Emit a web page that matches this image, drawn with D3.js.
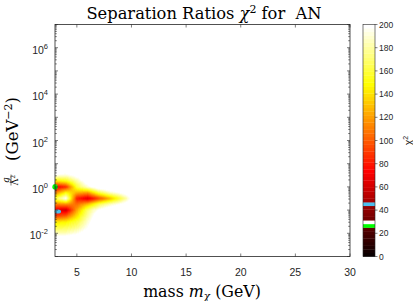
<!DOCTYPE html>
<html><head><meta charset="utf-8">
<script src="https://cdn.jsdelivr.net/npm/d3@7"></script>
<style>body{margin:0;background:#fff}svg{display:block}</style>
</head><body>
<script>
// ---------- data ----------
const masses = [3, 4, 5, 6, 7, 8, 9, 10, 11];                 // GeV
const logCoupling = [1, 0.75, 0.5, 0.25, 0, -0.25, -0.5, -0.75, -1, -1.25, -1.5, -1.75, -2, -2.25, -2.5]; // log10(g/Λ²)
const chi2 = [
  [220,220,220,220,220,220,220,220,220],
  [215,218,225,225,220,220,220,220,220],
  [195,190,205,220,225,220,220,220,220],
  [140,150,180,212,225,225,220,220,220],
  [ 66, 85,160,190,215,225,225,225,220],
  [110,150,125,118,160,185,200,215,220],
  [160,200, 82, 62, 92,125,160,200,220],
  [110,115,105,130,165,185,200,215,220],
  [ 68, 58,122,170,200,215,220,220,220],
  [ 90,100,140,180,215,220,220,220,220],
  [140,145,160,190,220,220,220,220,220],
  [160,165,175,198,220,220,220,220,220],
  [185,185,195,210,220,220,220,220,220],
  [210,215,220,220,220,220,220,220,220],
  [220,220,220,220,220,220,220,220,220]
];
const markerGreen = {m: 3.0, g: 1.0};
const markerBlue = {m: 3.26, g: 0.088};
const xTicks = [5, 10, 15, 20, 25, 30];
const yTickExps = [-2, 0, 2, 4, 6];
const cbTicks = [0, 20, 40, 60, 80, 100, 120, 140, 160, 180, 200];
const specialBands = [{i: 8, c: [0, 1, 0]}, {i: 9, c: [1, 1, 1]}, {i: 14, c: [0.30, 0.745, 0.933]}];

// ---------- colormap (hot, 64 entries, with marked bands) ----------
const N = 64;
const cmap = d3.range(N).map(i => {
  const n1 = 24;
  const r = i < n1 ? (i + 1) / n1 : 1;
  const g = i < n1 ? 0 : (i < 2 * n1 ? (i - n1 + 1) / n1 : 1);
  const b = i < 2 * n1 ? 0 : (i - 2 * n1 + 1) / (N - 2 * n1);
  return [r, g, b];
});
specialBands.forEach(s => cmap[s.i] = s.c);
const cmin = 0, cmax = 200;
const idxScale = d3.scaleQuantize().domain([cmin, cmax]).range(d3.range(N));
function colorOf(v) {
  const i = v >= cmax ? N - 1 : (v <= cmin ? 0 : idxScale(v));
  return cmap[i];
}

// ---------- layout ----------
const W = 413, H = 301;
const L = 55, R = 350, T = 24.5, B = 256.5;
const x = d3.scaleLinear().domain([3, 30]).range([L, R]);
const y = d3.scaleLog().domain([1e-3, 1e7]).range([B, T]);
const cbX0 = 363, cbX1 = 375;
const cy = d3.scaleLinear().domain([cmin, cmax]).range([B, T]);
const axisColor = '#262626';

const svg = d3.select('body').append('svg').attr('width', W).attr('height', H);

// ---------- heatmap via canvas (bilinear interpolation like shading interp) ----------
const pw = Math.round(R - L), ph = Math.round(B - T);
const canvas = document.createElement('canvas');
canvas.width = pw; canvas.height = ph;
const ctx = canvas.getContext('2d');
const img = ctx.createImageData(pw, ph);
const mi = d3.scaleLinear().domain(masses).range(d3.range(masses.length));
const li = d3.scaleLinear().domain(logCoupling).range(d3.range(logCoupling.length));
for (let py = 0; py < ph; py++) {
  const lg = Math.log10(y.invert(T + py + 0.5));
  for (let px = 0; px < pw; px++) {
    const m = x.invert(L + px + 0.5);
    let c = [1, 1, 1];
    if (m >= masses[0] && m <= masses[masses.length - 1] && lg <= logCoupling[0] && lg >= logCoupling[logCoupling.length - 1]) {
      const fi = mi(m), fj = li(lg);
      const i0 = Math.min(Math.floor(fi), masses.length - 2), j0 = Math.min(Math.floor(fj), logCoupling.length - 2);
      const tx = fi - i0, ty = fj - j0;
      const v = chi2[j0][i0] * (1 - tx) * (1 - ty) + chi2[j0][i0 + 1] * tx * (1 - ty) +
                chi2[j0 + 1][i0] * (1 - tx) * ty + chi2[j0 + 1][i0 + 1] * tx * ty;
      c = colorOf(v);
    }
    const k = (py * pw + px) * 4;
    img.data[k] = Math.round(c[0] * 255); img.data[k + 1] = Math.round(c[1] * 255);
    img.data[k + 2] = Math.round(c[2] * 255); img.data[k + 3] = 255;
  }
}
ctx.putImageData(img, 0, 0);
svg.append('image').attr('x', L).attr('y', T).attr('width', pw).attr('height', ph)
  .attr('preserveAspectRatio', 'none').attr('href', canvas.toDataURL());

// ---------- markers ----------
const gx = x(markerGreen.m), gy = y(markerGreen.g);
svg.append('path').attr('d', `M${gx - 2.8},${gy}H${gx + 2.8}M${gx},${gy - 2.8}V${gy + 2.8}M${gx - 2},${gy - 2}L${gx + 2},${gy + 2}M${gx - 2},${gy + 2}L${gx + 2},${gy - 2}`)
  .attr('stroke', '#00ff00').attr('stroke-width', 1.5).attr('fill', 'none');
svg.append('ellipse').attr('cx', x(markerBlue.m)).attr('cy', y(markerBlue.g)).attr('rx', 3.2).attr('ry', 2)
  .attr('fill', '#4dbeee');

// ---------- axes box & ticks ----------
const g = svg.append('g').attr('stroke', axisColor).attr('stroke-width', 0.6).attr('fill', 'none');
g.append('rect').attr('x', L).attr('y', T).attr('width', R - L).attr('height', B - T).attr('stroke-width', 0.8);
xTicks.forEach(t => {
  g.append('line').attr('x1', x(t)).attr('x2', x(t)).attr('y1', B).attr('y2', B - 3);
  g.append('line').attr('x1', x(t)).attr('x2', x(t)).attr('y1', T).attr('y2', T + 3);
});
const minor = [];
for (let e = -3; e < 7; e++) for (let k = 2; k <= 9; k++) minor.push(k * Math.pow(10, e));
minor.forEach(v => {
  g.append('line').attr('x1', L).attr('x2', L + 1.8).attr('y1', y(v)).attr('y2', y(v));
  g.append('line').attr('x1', R).attr('x2', R - 1.8).attr('y1', y(v)).attr('y2', y(v));
});
d3.range(-3, 8).forEach(e => {
  const v = Math.pow(10, e);
  g.append('line').attr('x1', L).attr('x2', L + 3).attr('y1', y(v)).attr('y2', y(v));
  g.append('line').attr('x1', R).attr('x2', R - 3).attr('y1', y(v)).attr('y2', y(v));
});

const tickFont = "'Liberation Sans', Arial, sans-serif";
svg.append('g').selectAll('text').data(xTicks).join('text')
  .attr('x', d => x(d)).attr('y', B + 19).attr('text-anchor', 'middle')
  .attr('font-family', tickFont).attr('font-size', 10.5).attr('fill', axisColor).text(d => d);

const yl = svg.append('g').selectAll('text').data(yTickExps).join('text')
  .attr('x', L - 7).attr('y', d => y(Math.pow(10, d)) + 6).attr('text-anchor', 'end')
  .attr('font-family', tickFont).attr('font-size', 10.5).attr('fill', axisColor);
yl.append('tspan').text('10');
yl.append('tspan').attr('dy', -5).attr('font-size', 7.5).text(d => d);

// ---------- colorbar ----------
const cb = svg.append('g');
cb.selectAll('rect.c').data(d3.range(N)).join('rect').attr('class', 'c')
  .attr('x', cbX0).attr('width', cbX1 - cbX0)
  .attr('y', i => cy((i + 1) * (cmax - cmin) / N + cmin))
  .attr('height', i => cy(i * (cmax - cmin) / N + cmin) - cy((i + 1) * (cmax - cmin) / N + cmin) + 0.3)
  .attr('fill', i => d3.rgb(cmap[i][0] * 255, cmap[i][1] * 255, cmap[i][2] * 255));
cb.append('rect').attr('x', cbX0).attr('y', T).attr('width', cbX1 - cbX0).attr('height', B - T)
  .attr('fill', 'none').attr('stroke', axisColor).attr('stroke-width', 0.6);
cb.selectAll('line.t').data(cbTicks).join('line').attr('class', 't')
  .attr('x1', cbX1).attr('x2', cbX1 + 2.5).attr('y1', d => cy(d)).attr('y2', d => cy(d))
  .attr('stroke', axisColor).attr('stroke-width', 0.6);
cb.selectAll('text').data(cbTicks).join('text')
  .attr('x', cbX1 + 4).attr('y', d => cy(d) + 3).attr('font-family', tickFont)
  .attr('font-size', 8.5).attr('fill', axisColor).text(d => d);
const cbl = svg.append('text').attr('transform', `translate(${W - 1},${(T + B) / 2}) rotate(-90)`)
  .attr('text-anchor', 'middle').attr('font-family', tickFont).attr('font-size', 10.5).attr('fill', axisColor);
cbl.append('tspan').text('χ');
cbl.append('tspan').attr('dy', -4).attr('font-size', 7).text('2');

// ---------- title and labels ----------
const serif = "'DejaVu Serif', 'Liberation Serif', serif";
const title = svg.append('text').attr('x', 204).attr('y', 19).attr('text-anchor', 'middle')
  .attr('font-family', serif).attr('font-size', 16.3).attr('fill', '#000');
title.append('tspan').text('Separation Ratios ');
title.append('tspan').attr('font-style', 'italic').text('χ');
title.append('tspan').attr('dy', -6).attr('font-size', 11).text('2');
title.append('tspan').attr('dy', 6).text('\u00a0for\u00a0\u00a0AN');

const xl = svg.append('text').attr('x', 202).attr('y', 297).attr('text-anchor', 'middle')
  .attr('font-family', serif).attr('font-size', 15.8).attr('fill', '#000');
xl.append('tspan').text('mass ');
xl.append('tspan').attr('font-style', 'italic').text('m');
xl.append('tspan').attr('font-style', 'italic').attr('font-size', 10.5).attr('dy', 3).text('χ');
xl.append('tspan').attr('dy', -3).text(' (GeV)');

const ylab = svg.append('g').attr('transform', 'translate(18,130) rotate(-90)');
const yt = ylab.append('text').attr('x', 1).attr('y', 0).attr('text-anchor', 'middle')
  .attr('font-family', serif).attr('font-size', 16.5).attr('fill', '#000');
yt.append('tspan').text('(GeV');
yt.append('tspan').attr('dy', -6.5).attr('font-size', 11).text('−2');
yt.append('tspan').attr('dy', 6.5).text(')');
ylab.append('text').attr('x', -50).attr('y', -9.5).attr('text-anchor', 'middle')
  .attr('font-family', serif).attr('font-style', 'italic').attr('font-size', 9).text('g');
ylab.append('line').attr('x1', -55.5).attr('x2', -44.5).attr('y1', -7).attr('y2', -7).attr('stroke', '#000').attr('stroke-width', 0.5);
const den = ylab.append('text').attr('x', -50).attr('y', 0).attr('text-anchor', 'middle')
  .attr('font-family', serif).attr('font-size', 9);
den.append('tspan').text('Λ');
den.append('tspan').attr('dy', -3).attr('font-size', 6).text('2');
</script>
</body></html>
